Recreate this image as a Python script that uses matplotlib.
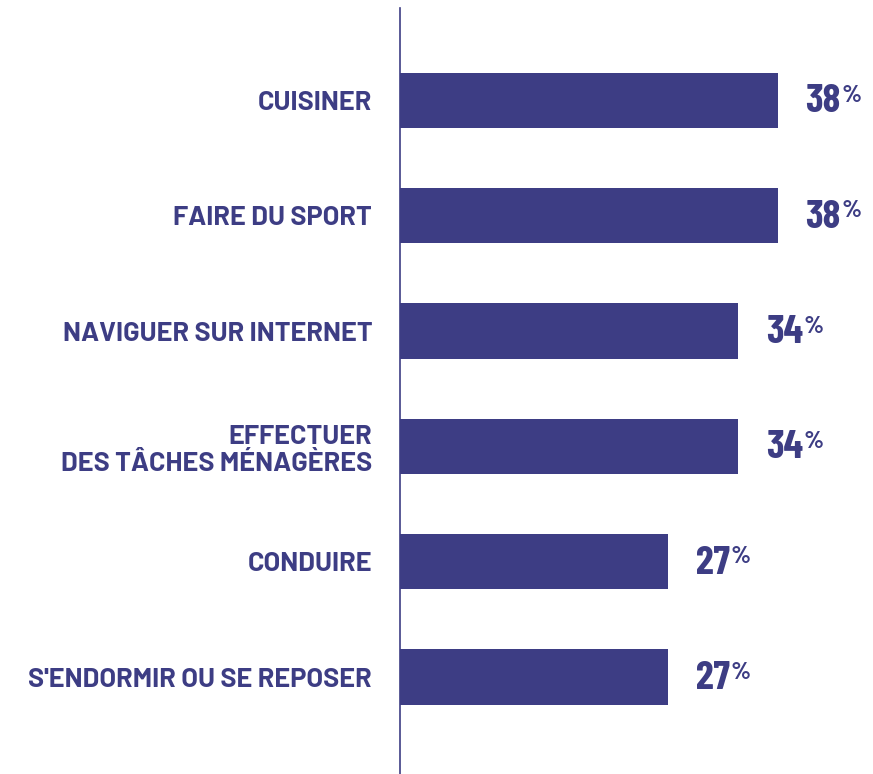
import matplotlib
matplotlib.use("Agg")
import matplotlib.pyplot as plt

# Données
activites = [
    "CUISINER",
    "FAIRE DU SPORT",
    "NAVIGUER SUR INTERNET",
    "EFFECTUER\nDES TÂCHES MÉNAGÈRES",
    "CONDUIRE",
    "S'ENDORMIR OU SE REPOSER",
]
pourcentages = [38, 38, 34, 34, 27, 27]

bleu = "#3d3d84"
plt.rcParams["font.family"] = ["Barlow Condensed", "DejaVu Sans"]
plt.rcParams["font.weight"] = "bold"
police_large = ["Barlow", "Barlow Semi Condensed", "DejaVu Sans"]

fig = plt.figure(figsize=(8.73, 7.74), dpi=100)
ax = fig.add_axes([400 / 873, 0, 497 / 873, 766 / 774])

y = list(range(len(activites)))
ax.barh(y, pourcentages, height=0.48, color=bleu)

ax.set_xlim(0, 50)
ax.set_ylim(5.84, -0.8)
ax.set_yticks(y)
ax.set_yticklabels(activites, fontsize=19.5, color=bleu, fontweight="bold",
                   family=police_large, linespacing=1.15)
ax.tick_params(axis="y", length=0, pad=20)
ax.set_xticks([])

for s in ["top", "right", "bottom"]:
    ax.spines[s].set_visible(False)
ax.spines["left"].set_color(bleu)
ax.spines["left"].set_linewidth(1.2)

# Valeurs avec le % en exposant
for yi, v in zip(y, pourcentages):
    t = ax.annotate(str(v), xy=(v, yi), xytext=(20, -1), textcoords="offset points",
                    ha="left", va="center", fontsize=29, color=bleu, fontweight="bold")
    ax.annotate("%", xy=(1, 1), xycoords=t, xytext=(0.3, -0.5), textcoords="offset points",
                ha="left", va="top", fontsize=17.5, color=bleu, fontweight="bold",
                family=police_large)

fig.savefig("out.png", dpi=100)
